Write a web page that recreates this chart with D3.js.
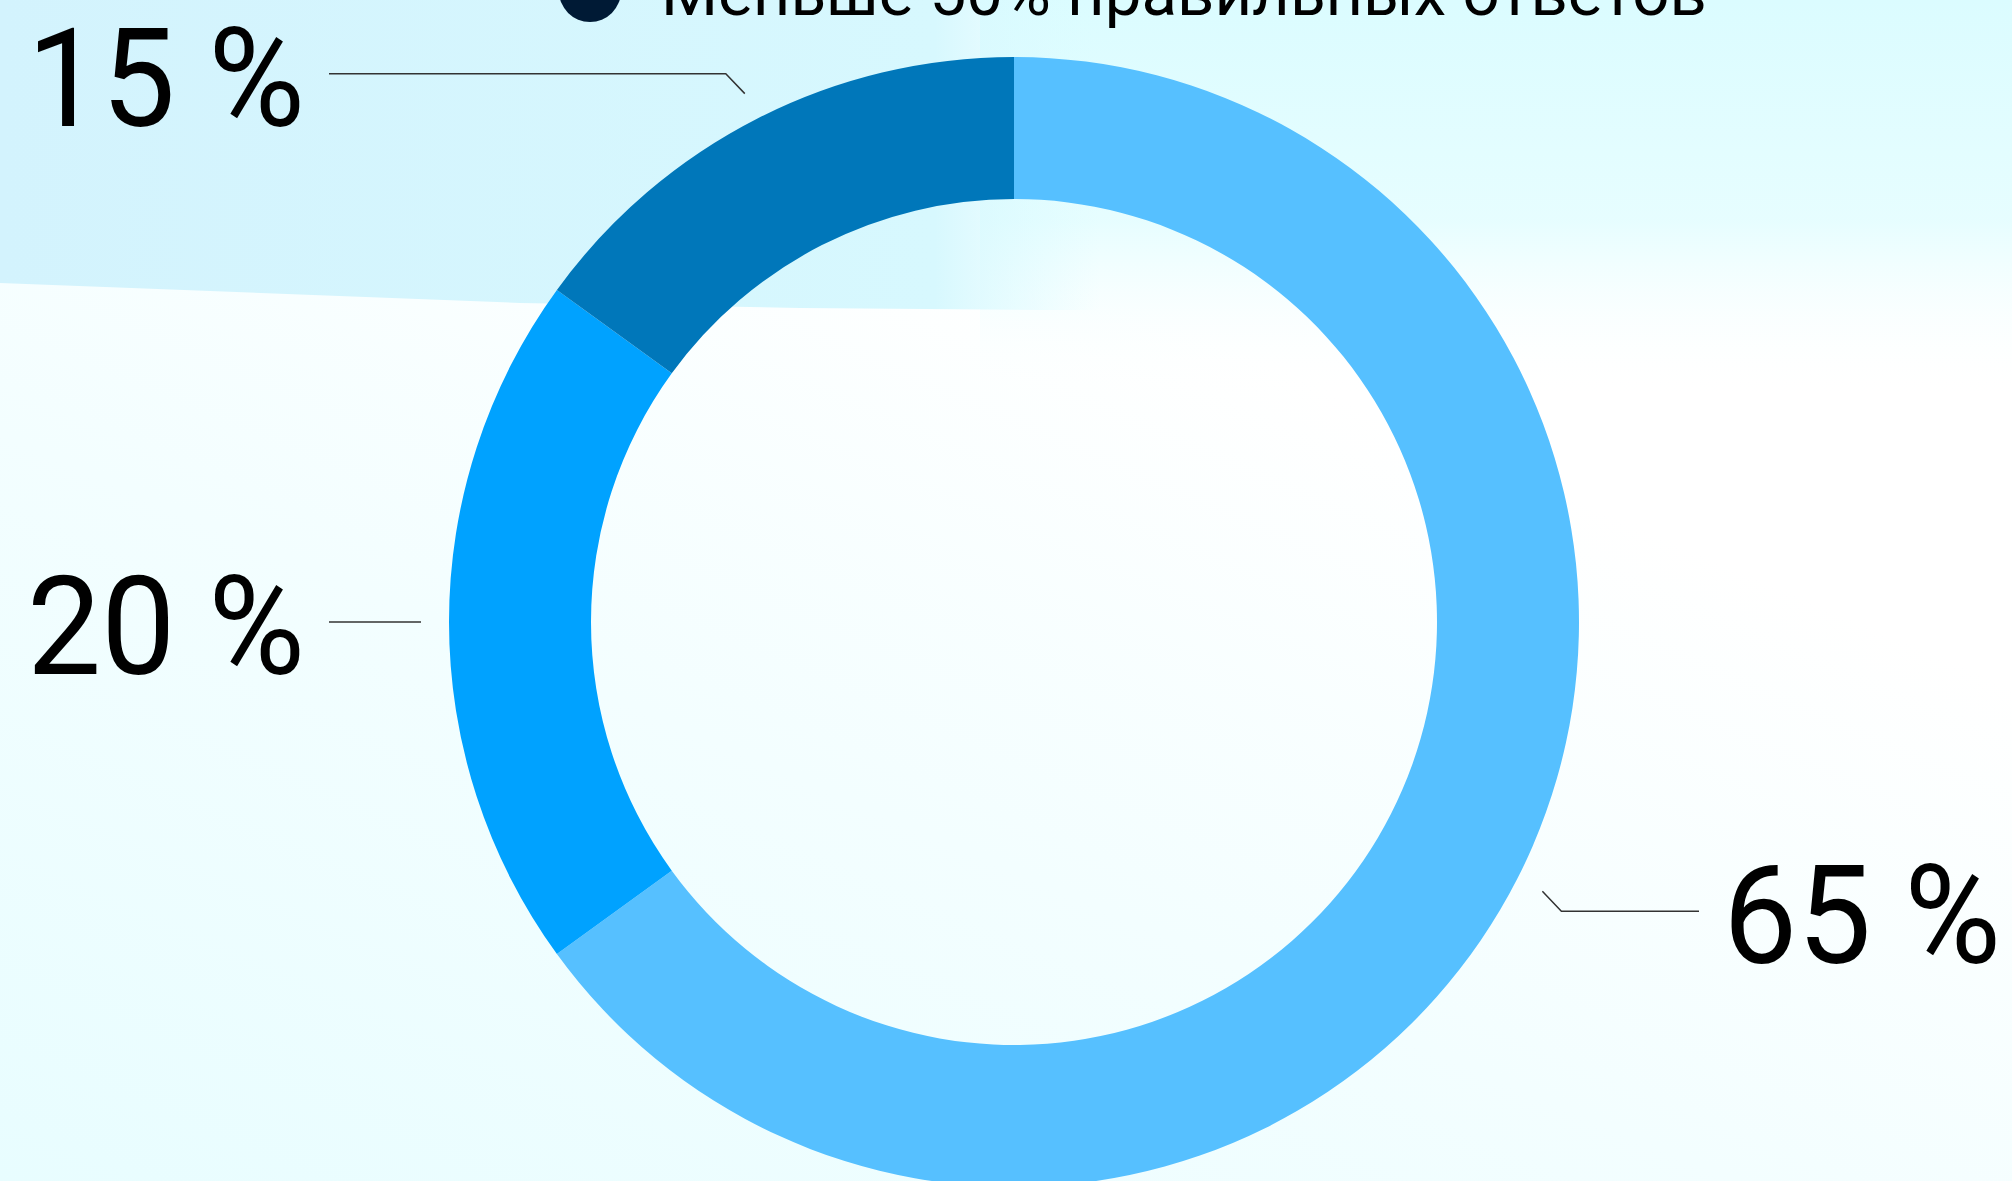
<!DOCTYPE html>
<html>
<head>
<meta charset="utf-8">
<script src="https://cdnjs.cloudflare.com/ajax/libs/d3/7.8.5/d3.min.js"></script>
<style>
  html, body { margin: 0; padding: 0; background: #ffffff; overflow: hidden; }
  svg { display: block; }
  .pct { font-family: Roboto, "Noto Sans", sans-serif; font-weight: 400; fill: #000; }
  .legend-text { font-family: Roboto, "Noto Sans", sans-serif; font-weight: 400; fill: #000; }
</style>
</head>
<body>
<svg id="chart" width="2012" height="1181"></svg>
<script>
// data
const categories = ["65%", "20%", "15%"];
const values = [65, 20, 15];
const labels = ["65 %", "20 %", "15 %"];
const colors = ["#56c0ff", "#00a2ff", "#0077ba"];
const legendLabels = ["Меньше 50% правильных ответов"];
const legendColors = ["#001a35"];

const W = 2012, H = 1181;
const svg = d3.select("#chart");
const defs = svg.append("defs");

// background -- light blue band on top, faint cyan wash bottom-left
const lowGrad = defs.append("linearGradient").attr("id", "lowGrad")
    .attr("x1", 0).attr("y1", 1).attr("x2", 0.55).attr("y2", 0.25);
lowGrad.append("stop").attr("offset", 0).attr("stop-color", "#e8fdff");
lowGrad.append("stop").attr("offset", 0.55).attr("stop-color", "#f3feff");
lowGrad.append("stop").attr("offset", 1).attr("stop-color", "#ffffff");

const topGrad = defs.append("linearGradient").attr("id", "topGrad")
    .attr("gradientUnits", "userSpaceOnUse")
    .attr("x1", 0).attr("y1", 0).attr("x2", 1100).attr("y2", 0);
topGrad.append("stop").attr("offset", 0).attr("stop-color", "#d3f3fd");
topGrad.append("stop").attr("offset", 0.85).attr("stop-color", "#d7f8fe");
topGrad.append("stop").attr("offset", 1).attr("stop-color", "#dbfcff").attr("stop-opacity", 0);

const fadeGrad = defs.append("linearGradient").attr("id", "fadeGrad")
    .attr("x1", 0).attr("y1", 0).attr("x2", 0).attr("y2", 1);
fadeGrad.append("stop").attr("offset", 0).attr("stop-color", "#dbfcff").attr("stop-opacity", 1);
fadeGrad.append("stop").attr("offset", 0.55).attr("stop-color", "#e0fdff").attr("stop-opacity", 0.8);
fadeGrad.append("stop").attr("offset", 1).attr("stop-color", "#ffffff").attr("stop-opacity", 0);

svg.append("rect").attr("width", W).attr("height", H).attr("fill", "url(#lowGrad)");
svg.append("rect").attr("x", 980).attr("y", 0).attr("width", W - 980).attr("height", 400)
    .attr("fill", "url(#fadeGrad)");
svg.append("path")
    .attr("d", "M0,0 H1100 V310 L1040,310 L800,308 L520,303 L0,283 Z")
    .attr("fill", "url(#topGrad)");

// donut
const cx = 1014, cy = 622;
const outerR = 565, innerR = 423;

const pie = d3.pie().sort(null).value(d => d.value).startAngle(0).endAngle(2 * Math.PI);
const arcs = pie(values.map((v, i) => ({ name: categories[i], value: v, label: labels[i], color: colors[i] })));
const arc = d3.arc().innerRadius(innerR).outerRadius(outerR);

const g = svg.append("g").attr("transform", `translate(${cx},${cy})`);
g.selectAll("path.slice")
    .data(arcs)
    .enter()
    .append("path")
    .attr("class", "slice")
    .attr("d", arc)
    .attr("fill", d => d.data.color);

// leader lines + labels
const lineR = outerR + 28;
const labelGapX = 24;
arcs.forEach(d => {
    const a = (d.startAngle + d.endAngle) / 2;
    const sx = Math.sin(a), sy = -Math.cos(a);
    const p0 = [sx * lineR, sy * lineR];
    const dirX = sx >= 0 ? 1 : -1;
    const dirY = Math.abs(sy) < 0.1 ? 0 : (sy > 0 ? 1 : -1);
    const p1 = [p0[0] + dirX * 19, p0[1] + dirY * 20];
    const endX = dirX > 0 ? 685 : -685;
    const p2 = [endX, p1[1]];

    g.append("polyline")
        .attr("points", [p0, p1, p2].map(p => p.join(",")).join(" "))
        .attr("fill", "none")
        .attr("stroke", "#333")
        .attr("stroke-width", 1.5);

    const t = g.append("text")
        .attr("class", "pct")
        .attr("x", endX + dirX * labelGapX)
        .attr("y", p2[1] + 52)
        .attr("text-anchor", dirX > 0 ? "start" : "end")
        .style("font-size", "138px")
        .text(d.data.label);
    // keep label widths close to the reference (~278px)
    const w = t.node().getComputedTextLength();
    if (w > 278) t.attr("textLength", 278).attr("lengthAdjust", "spacingAndGlyphs");
});

// legend (cut at the top edge)
const legend = svg.append("g");
legendLabels.forEach((t, i) => {
    legend.append("circle")
        .attr("cx", 590).attr("cy", -9).attr("r", 31)
        .attr("fill", legendColors[i]);
    const txt = legend.append("text")
        .attr("class", "legend-text")
        .attr("x", 661).attr("y", 15)
        .style("font-size", "64px")
        .text(t);
    // fit to the width seen in the reference
    const w = txt.node().getComputedTextLength();
    txt.style("font-size", (64 * 1046 / w) + "px");
});
</script>
</body>
</html>
